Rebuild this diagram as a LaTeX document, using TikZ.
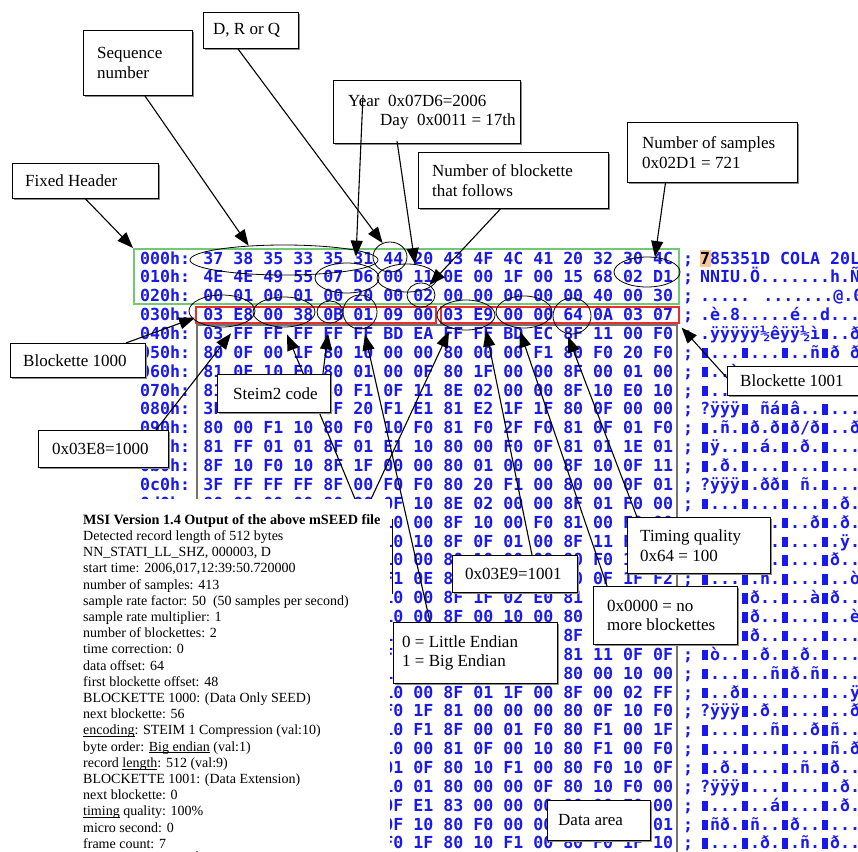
\documentclass[tikz,border=0pt]{standalone}
\usepackage{fontspec}
\setmainfont{Liberation Serif}
\newfontfamily\hexfont{DejaVu Sans Mono}
\usetikzlibrary{arrows.meta,shapes.geometric,shadows}

\definecolor{hexblue}{RGB}{25,25,235}
\definecolor{hdrgreen}{RGB}{115,200,115}
\definecolor{blkred}{RGB}{235,45,45}
\definecolor{cursorbg}{RGB}{250,200,150}

% filled cell used by the hex editor for non-printable high bytes
\newcommand\blk{\makebox[10pt][c]{\rule{6pt}{10.5pt}}}
\catcode`\■=\active
\def■{\blk}

% words flagged in the decoder listing: thin line just under the baseline
\newcommand\flagged[1]{\setbox0=\hbox{#1}\rlap{\rule[-2pt]{\wd0}{0.6pt}}\box0\relax}

\tikzset{
  hexline/.style={anchor=base west, inner sep=0pt, text=hexblue,
    font={\hexfont\bfseries\fontsize{16.6}{18}\selectfont}},
  oval/.style={ellipse, draw=black, line width=0.8pt, inner sep=0pt},
  callout/.style={draw=black, line width=0.9pt, fill=white, inner sep=0pt,
    drop shadow={shadow xshift=1.6pt, shadow yshift=-1.6pt, fill=black!45, opacity=1}},
  calltext/.style={inner sep=0pt, align=left, font={\fontsize{17}{19.5}\selectfont}},
  pointer/.style={draw=black, line width=1.1pt, -{Triangle[length=16pt,width=12pt]}},
  areaedge/.style={draw=black!55, line width=2pt},
}

% one line of the dump: row index, offset, bytes, character view
\newcommand\hexrow[4]{%
  \node[hexline] (h#1) at (140,{264+18.87*#1}) {#2: #3 ;};
  \node[hexline] (a#1) at (700,{264+18.87*#1}) {#4};}

% boxed remark: name, x1, y1, x2, y2, left padding, text
\newcommand\callout[7]{%
  \node[callout, anchor=north west, minimum width={#4-#2}, minimum height={#5-#3}] (#1) at (#2,#3) {};
  \node[calltext, anchor=west] (#1t) at ([xshift=#6pt]#1.west) {#7};}

\begin{document}
\begin{tikzpicture}[x=1pt,y=-1pt]
\useasboundingbox (0,0) rectangle (858,851);
\fill[white] (0,0) rectangle (858,851);

% editor cursor on the first character
\fill[cursorbg] (700,250) rectangle (711,267);

% ---- hex dump of the record ----
\hexrow{0}{000h}{37 38 35 33 35 31 44 20 43 4F 4C 41 20 32 30 4C}{{\color{black}7}85351D COLA 20L}
\hexrow{1}{010h}{4E 4E 49 55 07 D6 00 11 0E 00 1F 00 15 68 02 D1}{NNIU.Ö.......h.Ñ}
\hexrow{2}{020h}{00 01 00 01 00 20 00 02 00 00 00 00 00 40 00 30}{..... .......@.0}
\hexrow{3}{030h}{03 E8 00 38 0B 01 09 00 03 E9 00 00 64 0A 03 07}{.è.8.....é..d...}
\hexrow{4}{040h}{03 FF FF FF FF FF BD EA FF FF BD EC 8F 11 00 F0}{.ÿÿÿÿÿ½êÿÿ½ì■..ð}
\hexrow{5}{050h}{80 0F 00 1F 80 10 00 00 80 00 00 F1 80 F0 20 F0}{■...■...■..ñ■ð ð}
\hexrow{6}{060h}{81 0F 10 E0 80 01 00 0F 80 1F 00 00 8F 00 01 00}{■..à■...■...■...}
\hexrow{7}{070h}{81 00 1F 00 80 F1 0F 11 8E 02 00 00 8F 10 E0 10}{■...■ñ..■...■.à.}
\hexrow{8}{080h}{3F FF FF FF 8F 20 F1 E1 81 E2 1F 1F 80 0F 00 00}{?ÿÿÿ■ ñá■â..■...}
\hexrow{9}{090h}{80 00 F1 10 80 F0 10 F0 81 F0 2F F0 81 0F 01 F0}{■.ñ.■ð.ð■ð/ð■..ð}
\hexrow{10}{0a0h}{81 FF 01 01 8F 01 E1 10 80 00 F0 0F 81 01 1E 01}{■ÿ..■.á.■.ð.■...}
\hexrow{11}{0b0h}{8F 10 F0 10 8F 1F 00 00 80 01 00 00 8F 10 0F 11}{■.ð.■...■...■...}
\hexrow{12}{0c0h}{3F FF FF FF 8F 00 F0 F0 80 20 F1 00 80 00 0F 01}{?ÿÿÿ■.ðð■ ñ.■...}
\hexrow{13}{0d0h}{80 00 00 00 80 00 0F 10 8E 02 00 00 8F 01 F0 00}{■...■...■...■.ð.}
\hexrow{14}{0e0h}{80 00 10 00 80 00 10 00 8F 10 00 F0 81 00 F0 00}{■...■...■..ð■.ð.}
\hexrow{15}{0f0h}{80 00 10 00 80 00 10 10 8F 0F 01 00 8F 11 FF 0F}{■...■...■...■.ÿ.}
\hexrow{16}{100h}{80 00 10 00 80 00 10 00 80 10 00 00 80 F0 10 00}{■...■...■...■ð..}
\hexrow{17}{110h}{81 00 10 00 80 00 F1 0E 80 00 10 00 80 0F 1F F2}{■...■.ñ.■...■..ò}
\hexrow{18}{120h}{80 00 10 00 80 F0 10 00 8F 1F 02 E0 81 F0 00 10}{■...■ð..■..à■ð..}
\hexrow{19}{130h}{80 00 10 00 80 F0 10 00 8F 00 10 00 80 00 10 E8}{■...■ð..■...■..è}
\hexrow{20}{140h}{80 00 F0 00 80 F0 10 00 80 00 10 00 8F 00 10 00}{■.ð.■ð..■...■...}
\hexrow{21}{150h}{80 F2 10 00 80 00 F0 00 80 00 F0 00 81 11 0F 0F}{■ò..■.ð.■.ð.■...}
\hexrow{22}{160h}{80 00 00 00 80 00 10 F1 80 F0 00 F1 80 00 10 00}{■...■..ñ■ð.ñ■...}
\hexrow{23}{170h}{80 00 10 F0 80 00 10 00 8F 01 1F 00 8F 00 02 FF}{■..ð■...■...■..ÿ}
\hexrow{24}{180h}{3F FF FF FF 8F 00 F0 1F 81 00 00 00 80 0F 10 F0}{?ÿÿÿ■.ð.■...■..ð}
\hexrow{25}{190h}{80 00 00 00 80 00 10 F1 8F 00 01 F0 80 F1 00 1F}{■...■..ñ■..ð■ñ..}
\hexrow{26}{1a0h}{80 00 10 00 80 00 10 00 81 0F 00 10 80 F1 00 F0}{■...■...■...■ñ.ð}
\hexrow{27}{1b0h}{80 00 F0 00 80 00 01 0F 80 10 F1 00 80 F0 10 0F}{■.ð.■...■.ñ.■ð..}
\hexrow{28}{1c0h}{3F FF FF FF 8F 00 10 01 80 00 00 0F 80 10 F0 00}{?ÿÿÿ■...■...■.ð.}
\hexrow{29}{1d0h}{80 00 10 00 80 00 0F E1 83 00 00 00 80 00 F0 00}{■...■..á■...■.ð.}
\hexrow{30}{1e0h}{80 F1 F0 00 80 F1 0F 10 80 F0 00 00 80 00 10 01}{■ñð.■ñ..■ð..■...}
\hexrow{31}{1f0h}{80 00 10 00 80 00 F0 1F 80 10 F1 00 80 F0 1F 10}{■...■.ð.■.ñ.■ð..}

% ---- header, blockette and data frames ----
\node[draw=hdrgreen, line width=2pt, inner sep=0pt, minimum width=545pt, minimum height=55pt, anchor=north west] (hdr) at (133,248) {};
\node[draw=blkred, line width=1.5pt, inner sep=0pt, minimum width=240pt, minimum height=16pt, anchor=north west] (rB1000) at (195,306) {};
\node[draw=blkred, line width=1.5pt, inner sep=0pt, minimum width=238pt, minimum height=16pt, anchor=north west] (rB1001) at (440,306) {};
\draw[areaedge] (197,870) -- (197,325) -- (677,325) -- (677,870);

% ---- marked fields ----
\node[oval, minimum width=188pt, minimum height=30pt] (eSeq) at (284,260) {};
\node[oval, minimum width=34pt, minimum height=30pt] (e44) at (390,257) {};
\node[oval, minimum width=64pt, minimum height=30pt] (eYr) at (347,278) {};
\node[oval, minimum width=60pt, minimum height=28pt] (e0011) at (407,278) {};
\node[oval, minimum width=28pt, minimum height=24pt] (e02) at (421,295) {};
\node[oval, minimum width=66pt, minimum height=30pt] (e02D1) at (647,272) {};
\node[oval, minimum width=66pt, minimum height=32pt] (e03E8) at (222,311) {};
\node[oval, minimum width=62pt, minimum height=30pt] (e0038) at (284,312) {};
\node[oval, minimum width=26pt, minimum height=22pt] (e0B) at (330,312) {};
\node[oval, minimum width=34pt, minimum height=34pt] (e01) at (360,312) {};
\node[oval, minimum width=58pt, minimum height=30pt] (e03E9) at (466,315) {};
\node[oval, minimum width=56pt, minimum height=32pt] (e0000) at (524,312) {};
\node[oval, minimum width=38pt, minimum height=36pt] (e64) at (572,316) {};

% ---- pointers that run beneath the decoder listing ----
\coordinate (u1) at (372,540);
\coordinate (u2) at (345,555);
\draw[pointer] (u1) -- ([xshift=3pt,yshift=-7pt]e0038.south);
\draw[pointer] (u2) -- ([xshift=-17pt,yshift=-1pt]e03E9.south);

% ---- decoder listing ----
\fill[white] (62,499) rectangle (389.5,851);
\draw[black, line width=0.9pt] (392.5,519) -- (392.5,594);
\node[anchor=north west, align=left, inner sep=0pt, font={\fontsize{14}{16.2}\selectfont}] (msi) at (83,514) {%
{\bfseries\fontsize{14.2}{16.2}\selectfont MSI Version 1.4 Output of the above mSEED file}\\
Detected record length of 512 bytes\\
NN\_STATI\_LL\_SHZ, 000003, D\\
start time: 2006,017,12:39:50.720000\\
number of samples: 413\\
sample rate factor: 50\ \ (50 samples per second)\\
sample rate multiplier: 1\\
number of blockettes: 2\\
time correction: 0\\
data offset: 64\\
first blockette offset: 48\\
BLOCKETTE 1000: (Data Only SEED)\\
next blockette: 56\\
\flagged{encoding}: STEIM 1 Compression (val:10)\\
byte order: \flagged{Big endian} (val:1)\\
record \flagged{length}: 512 (val:9)\\
BLOCKETTE 1001: (Data Extension)\\
next blockette: 0\\
\flagged{timing} quality: 100\%\\
micro second: 0\\
frame count: 7};

% ---- remarks ----
\callout{bSeq}{83}{30}{192}{95}{14}{Sequence\\number}
\callout{bDRQ}{203}{12}{298}{48}{10}{D, R or Q}
\callout{bFixed}{12}{163}{158}{198}{13}{Fixed Header}
\callout{bYear}{333}{80}{520}{143}{15}{Year\ \ 0x07D6=2006\\\hspace*{32pt}Day\ \ 0x0011 = 17th}
\callout{bNB}{418}{152}{608}{208}{14}{Number of blockette\\that follows}
\callout{bNS}{627}{122}{797}{182}{15}{Number of samples\\0x02D1 = 721}
\callout{b1000}{10}{343}{145}{377}{13}{Blockette 1000}
\callout{b3E8}{38}{430}{168}{467}{14}{0x03E8=1000}
\callout{bSteim}{217}{374}{330}{412}{16}{Steim2 code}
\callout{b1001}{727}{366}{866}{395}{13}{Blockette 1001}
\callout{bTQ}{627}{517}{770}{573}{13}{Timing quality\\0x64 = 100}
\callout{b3E9}{452}{555}{577}{592}{13}{0x03E9=1001}
\callout{bNone}{593}{586}{737}{644}{14}{0x0000 = no\\more blockettes}
\callout{bEnd}{393}{622}{557}{683}{9}{0 = Little Endian\\1 = Big Endian}
\callout{bData}{547}{800}{650}{840}{11}{Data area}

% ---- pointers from the remarks ----
\draw[pointer] (bFixed.south) -- (hdr.north west);
\draw[pointer] ([xshift=7pt]bSeq.south) -- (eSeq.158);
\draw[pointer] ([xshift=-13pt]bDRQ.south) -- (e44.118);
\draw[pointer] ([xshift=30pt,yshift=-15pt]bYear.north west) -- ([xshift=9pt,yshift=6pt]eYr.north);
\draw[pointer] ([xshift=64pt,yshift=3pt]bYear.south west) -- (e0011.60);
\draw[pointer] ([xshift=-13pt]bNB.south) -- (e02.50);
\draw[pointer] ([xshift=-47pt]bNS.south) -- (e02D1.62);
\draw[pointer] ([xshift=-20pt]b1000.north east) -- ([yshift=-3pt]rB1000.west);
\draw[pointer] ([xshift=-13pt]b3E8.north east) -- ([xshift=9pt,yshift=-6pt]e03E8.south);
\draw[pointer] ([xshift=-8pt]bSteim.north east) -- ([xshift=-2pt,yshift=-10pt]e0B.south);
\draw[pointer] ([xshift=37pt]bEnd.north west) -- ([xshift=5pt,yshift=-5pt]e01.south);
\draw[pointer] ([xshift=80pt]b3E9.north west) -- ([xshift=20pt]e03E9.south);
\draw[pointer] ([xshift=14pt]bNone.north west) -- ([xshift=-4pt,yshift=-3pt]e0000.south);
\draw[pointer] ([xshift=10pt]bTQ.north west) -- ([xshift=-4pt,yshift=-2pt]e64.south);
\draw[pointer] ([yshift=-12pt]b1001.north west) -- ([xshift=2pt,yshift=-4pt]rB1001.south east);
\end{tikzpicture}
\end{document}
